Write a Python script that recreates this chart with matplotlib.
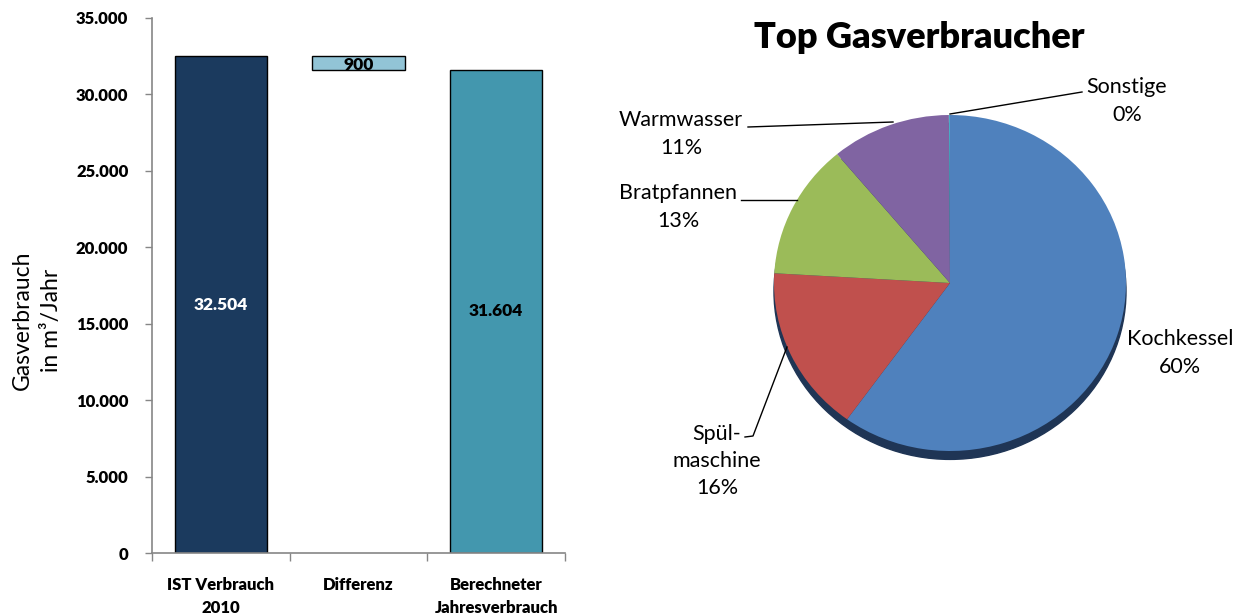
import numpy as np
import matplotlib.pyplot as plt
from matplotlib.patches import Ellipse
from matplotlib.ticker import FuncFormatter

plt.rcParams['font.family'] = ['Lato', 'DejaVu Sans']

# Balken (Wasserfall)
kategorien = ['IST Verbrauch\n2010', 'Differenz', 'Berechneter\nJahresverbrauch']
werte = [32504, 900, 31604]
balken_farben = ['#1B3A5E', '#92C4D6', '#4397AE']
text_farben = ['white', 'black', 'black']

# Torte
namen = ['Kochkessel', 'Spül-\nmaschine', 'Bratpfannen', 'Warmwasser', 'Sonstige']
anteile = [60, 16, 13, 11, 0.1]
torten_farben = ['#4F81BD', '#C0504D', '#9BBB59', '#8064A2', '#4BACC6']

W, H = 1239, 616
fig = plt.figure(figsize=(W / 100, H / 100), dpi=100)

def box(l, t, r, b):
    return [l / W, 1 - b / H, (r - l) / W, (b - t) / H]

# ---- Balkendiagramm
ax = fig.add_axes(box(152, 18, 565, 553))
x = np.arange(len(kategorien))
unten = [0, werte[0] - werte[1], 0]
ax.bar(x, werte, bottom=unten, width=0.67, color=balken_farben,
       edgecolor='black', linewidth=1)
for i in range(len(werte)):
    if i == 1:
        ty = unten[i] + werte[i] / 2 - 150
    else:
        ty = werte[i] / 2
    s = '{:,}'.format(werte[i]).replace(',', '.')
    ax.text(x[i], ty, s, ha='center', va='center', fontsize=12.5,
            fontweight='heavy', color=text_farben[i])

ax.set_xlim(-0.5, 2.5)
ax.set_ylim(0, 35000)
ax.set_yticks(np.arange(0, 35001, 5000))
ax.yaxis.set_major_formatter(FuncFormatter(lambda v, p: '{:,}'.format(int(v)).replace(',', '.')))
ax.set_xticks(x)
ax.set_xticklabels(kategorien, fontweight='heavy', fontsize=12, linespacing=1.55)
ax.set_xticks([-0.5, 0.5, 1.5, 2.5], minor=True)
ax.tick_params(axis='x', which='major', length=0, pad=17)
ax.tick_params(axis='x', which='minor', length=6, color='#868686', width=1)
ax.tick_params(axis='y', length=5, color='#868686', width=1, pad=12)
for lab in ax.get_yticklabels():
    lab.set_fontweight('heavy')
    lab.set_fontsize(12)
for sp in ['top', 'right']:
    ax.spines[sp].set_visible(False)
for sp in ['left', 'bottom']:
    ax.spines[sp].set_color('#868686')
    ax.spines[sp].set_linewidth(1.2)

fig.text(37 / W, 1 - 320 / H, 'Gasverbrauch\nin m³/Jahr', rotation=90,
         ha='center', va='center', fontsize=16.5, linespacing=1.45)

# ---- Tortendiagramm
cx, cy, rx, ry = 950, 283, 176, 168
pa = fig.add_axes(box(cx - rx, cy - ry, cx + rx, cy + ry))
pa.add_patch(Ellipse((0.0, -0.05), 2.0, 2.0, color='#1F3555', zorder=0, clip_on=False))
pa.pie(anteile, colors=torten_farben, startangle=90, counterclock=False,
       radius=1.0, wedgeprops=dict(linewidth=0, clip_on=False))
pa.set_aspect('auto')
pa.set_xlim(-1, 1)
pa.set_ylim(-1, 1)
pa.axis('off')

fig.text(919 / W, 1 - 37 / H, 'Top Gasverbraucher', ha='center', va='center',
         fontsize=26, fontweight='heavy')

# Beschriftungen mit Führungslinien
labels_pos = {
    'Kochkessel': (1180, 353),
    'Spül-\nmaschine': (717, 461),
    'Bratpfannen': (678, 207),
    'Warmwasser': (681, 134),
    'Sonstige': (1127, 101),
}
for n, a in zip(namen, anteile):
    tx, ty = labels_pos[n]
    fig.text(tx / W, 1 - ty / H, '{}\n{:.0f}%'.format(n, a), ha='center', va='center',
             fontsize=15.5, linespacing=1.45)

linien = [
    [(950, 114), (1082, 92)],
    [(748, 127), (893, 122)],
    [(741, 200), (797, 200)],
    [(745, 437), (753, 436), (787, 347)],
]
for ln in linien:
    xs = [p[0] / W for p in ln]
    ys = [1 - p[1] / H for p in ln]
    fig.add_artist(plt.Line2D(xs, ys, color='black', linewidth=1))

plt.savefig('out.png', dpi=100)
